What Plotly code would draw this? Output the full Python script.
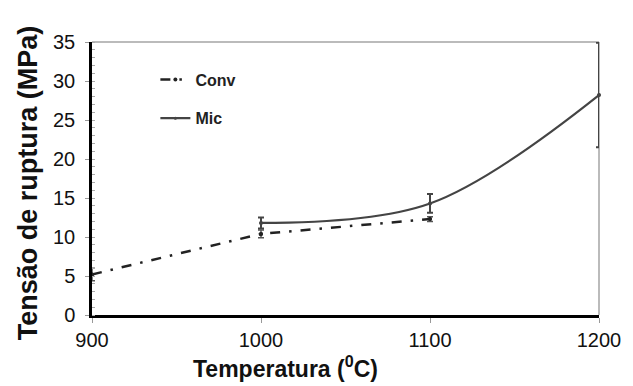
import plotly.graph_objects as go

# Data
temps_conv = [900, 1000, 1100]
conv_vals = [5.2, 10.4, 12.3]
conv_err = [0.8, 0.5, 0.3]

temps_mic = [1000, 1100, 1200]
mic_vals = [11.8, 14.3, 28.2]
mic_err = [0.7, 1.2, 6.7]

x_ticks = [900, 1000, 1100, 1200]
y_ticks = [0, 5, 10, 15, 20, 25, 30, 35]

FONT = "Liberation Sans, Arial, sans-serif"

fig = go.Figure()

# Error bars (not in legend)
fig.add_trace(go.Scatter(
    x=temps_conv, y=conv_vals, mode="markers",
    marker=dict(size=4, color="#333"),
    error_y=dict(type="data", array=conv_err, color="#555", thickness=1.5, width=3),
    showlegend=False, cliponaxis=False, hoverinfo="skip"))
fig.add_trace(go.Scatter(
    x=temps_mic, y=mic_vals, mode="markers",
    marker=dict(size=4, color="#444"),
    error_y=dict(type="data", array=mic_err, color="#444", thickness=2, width=3),
    showlegend=False, cliponaxis=False, hoverinfo="skip"))

# Lines
fig.add_trace(go.Scatter(
    x=temps_conv, y=conv_vals, mode="lines+markers", name="Conv",
    line=dict(color="#222", width=2.5, dash="10px,9px,2.5px,9px"),
    marker=dict(size=4, color="#222"),
    legendgroup="a", cliponaxis=False))
fig.add_trace(go.Scatter(
    x=temps_mic, y=mic_vals, mode="lines+markers", name="Mic",
    line=dict(color="#444", width=2.2, shape="spline", smoothing=1.0),
    marker=dict(size=3, color="#444"),
    legendgroup="b", cliponaxis=False))

fig.update_layout(
    width=633, height=386,
    margin=dict(l=92, r=27, t=42, b=71),
    paper_bgcolor="white", plot_bgcolor="white",
    font=dict(family=FONT, color="#111"),
    showlegend=True,
    legend=dict(x=0.125, y=0.925, xanchor="left", yanchor="top",
                bgcolor="rgba(0,0,0,0)", tracegroupgap=15,
                traceorder="grouped",
                font=dict(size=16, family=FONT, color="#222", weight="bold")),
    xaxis=dict(range=[900, 1200], tickvals=x_ticks, ticktext=[str(v) for v in x_ticks],
               showgrid=False, zeroline=False, showline=True, linecolor="#000", linewidth=2.5,
               ticks="outside", ticklen=5, tickcolor="#999", tickwidth=1,
               tickfont=dict(size=20, family=FONT, color="#111"), ticklabelstandoff=0),
    yaxis=dict(range=[0, 35], tickvals=y_ticks,
               showgrid=False, zeroline=False, showline=True, linecolor="#000", linewidth=2.5,
               ticks="outside", ticklen=4, tickcolor="#999", tickwidth=1,
               minor=dict(ticks="inside", dtick=1, ticklen=3, tickcolor="#aaa", tickwidth=1),
               tickfont=dict(size=20, family=FONT, color="#111"), ticklabelstandoff=6),
    shapes=[
        dict(type="line", xref="paper", yref="paper", x0=0, x1=1, y0=1, y1=1,
             layer="below", line=dict(color="#bbb", width=2)),
        dict(type="line", xref="paper", yref="paper", x0=1, x1=1, y0=0, y1=1,
             layer="below", line=dict(color="#bbb", width=2)),
    ],
    annotations=[
        dict(text="Tensão de ruptura (MPa)", xref="paper", yref="paper",
             x=-0.126, y=0.483, xanchor="center", yanchor="middle", textangle=-90,
             showarrow=False, font=dict(size=27, family=FONT, color="#111", weight="bold")),
        dict(text="Temperatura (<sup>0</sup>C)", xref="paper", yref="paper",
             x=0.381, y=-0.19, xanchor="center", yanchor="middle",
             showarrow=False, font=dict(size=23, family=FONT, color="#111", weight="bold")),
    ],
)

fig.write_html("out.html")
